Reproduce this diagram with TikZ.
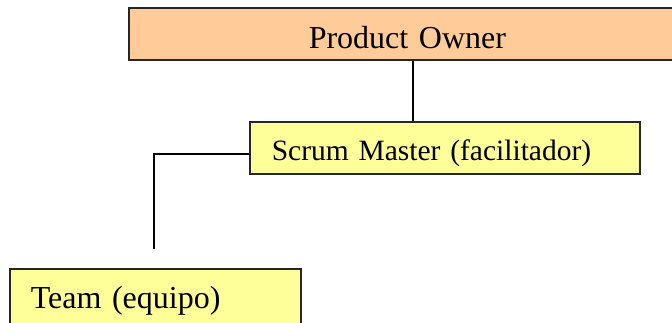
\documentclass[tikz,border=0pt]{standalone}
\usepackage{fontspec}
\setmainfont{Liberation Serif}
\begin{document}
\begin{tikzpicture}[x=1pt,y=-1pt,
  rolebox/.style={draw=black!85, line width=1.5pt, rectangle, anchor=north west,
    inner ysep=0pt, align=left},
  link/.style={draw=black, line width=2pt}]
\useasboundingbox (0,0) rectangle (672,322);
\clip (0,0) rectangle (672,322);

% Product Owner (runs past the right edge)
\node[rolebox, fill={rgb,255:red,255;green,204;blue,153},
  inner xsep=180pt, text width=232pt, text height=41pt, text depth=11pt,
  font=\fontsize{32}{38}\selectfont] (po) at (128,7) {Product Owner};

% Scrum Master
\node[rolebox, fill={rgb,255:red,255;green,255;blue,153},
  inner xsep=22pt, text width=346pt, text height=39pt, text depth=13pt,
  font=\fontsize{29.5}{35}\selectfont] (sm) at (249,121) {Scrum Master (facilitador)};

% Team (runs past the bottom edge)
\node[rolebox, fill={rgb,255:red,255;green,255;blue,153},
  inner xsep=21pt, text width=249pt, text height=40pt, text depth=32pt,
  font=\fontsize{32}{38}\selectfont] (team) at (9,268) {Team (equipo)};

% connectors
\coordinate (poX) at (413,0);
\coordinate (bend) at (154,154);
\coordinate (teamEnd) at (154,249);
\draw[link] (po.south -| poX) -- (sm.north -| poX);
\draw[link] (sm.west |- bend) -- (bend) -- (teamEnd);
\end{tikzpicture}
\end{document}
